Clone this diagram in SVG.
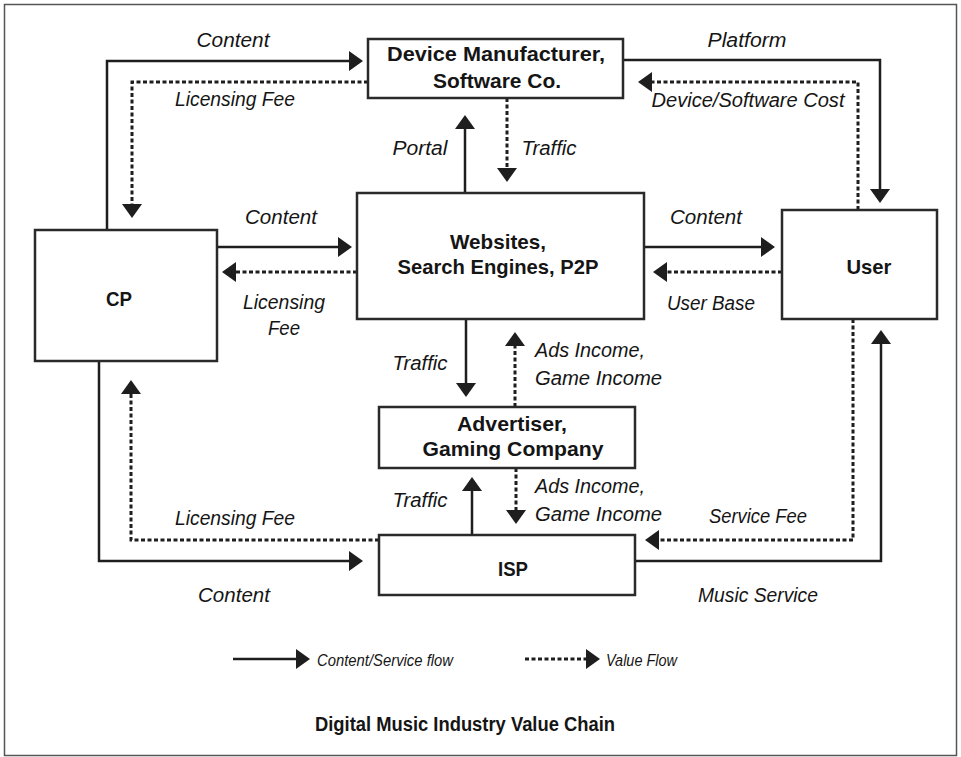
<svg xmlns="http://www.w3.org/2000/svg" width="961" height="757" viewBox="0 0 961 757">
<style>
.box{fill:#fff;stroke:#2a2a2a;stroke-width:2.5}
.ln{fill:none;stroke:#1e1e1e;stroke-width:2.5}
.solid{marker-end:url(#ah)}
.dot{stroke-width:3;stroke-dasharray:4 2.5;marker-end:url(#ah)}
.t{font-family:"Liberation Sans",Arial,sans-serif;font-weight:bold;font-size:21px;fill:#151515;text-anchor:middle}
.l{font-family:"Liberation Sans",Arial,sans-serif;font-style:italic;font-size:19.5px;fill:#151515;text-anchor:middle}
.ls{text-anchor:start}
.lg{font-size:16px}
</style>
<defs>
<marker id="ah" viewBox="0 0 14 20" refX="4" refY="10" markerWidth="14" markerHeight="20" markerUnits="userSpaceOnUse" orient="auto">
<path d="M0,0 L14,10 L0,20 z" fill="#1e1e1e"/>
</marker>
</defs>
<rect x="0" y="0" width="961" height="757" fill="#fff"/>
<rect x="4.5" y="4.5" width="952" height="751" fill="none" stroke="#555" stroke-width="1.5"/>

<g id="connectors">
<path class="ln solid" d="M107,230 V61 H353"/>
<path class="ln dot" d="M368,82 H132 V208"/>
<path class="ln solid" d="M623,60 H880 V193"/>
<path class="ln dot" d="M858,210 V82 H648"/>
<path class="ln solid" d="M465,193 V125"/>
<path class="ln dot" d="M507,98 V172"/>
<path class="ln solid" d="M217,247 H342"/>
<path class="ln dot" d="M357,272 H232"/>
<path class="ln solid" d="M644,247 H765"/>
<path class="ln dot" d="M782,272 H663"/>
<path class="ln solid" d="M466,319 V387"/>
<path class="ln dot" d="M515,407 V342"/>
<path class="ln solid" d="M472,535 V487"/>
<path class="ln dot" d="M516,468 V514"/>
<path class="ln solid" d="M99,361 V561 H353"/>
<path class="ln dot" d="M379,540 H131 V390"/>
<path class="ln dot" d="M853,319 V540 H655"/>
<path class="ln solid" d="M635,561 H881 V340"/>
</g>

<g id="connector-labels">
<text class="l" x="233" y="47" textLength="73" lengthAdjust="spacingAndGlyphs">Content</text>
<text class="l" x="235" y="106" textLength="120" lengthAdjust="spacingAndGlyphs">Licensing Fee</text>
<text class="l" x="747" y="47" textLength="79" lengthAdjust="spacingAndGlyphs">Platform</text>
<text class="l" x="748" y="107" textLength="193" lengthAdjust="spacingAndGlyphs">Device/Software Cost</text>
<text class="l" x="420" y="155" textLength="55" lengthAdjust="spacingAndGlyphs">Portal</text>
<text class="l" x="549" y="155" textLength="55" lengthAdjust="spacingAndGlyphs">Traffic</text>
<text class="l" x="281" y="224" textLength="72" lengthAdjust="spacingAndGlyphs">Content</text>
<text class="l" x="284" y="309" textLength="82" lengthAdjust="spacingAndGlyphs">Licensing</text>
<text class="l" x="284" y="335" textLength="32" lengthAdjust="spacingAndGlyphs">Fee</text>
<text class="l" x="706" y="224" textLength="72" lengthAdjust="spacingAndGlyphs">Content</text>
<text class="l" x="711" y="310" textLength="88" lengthAdjust="spacingAndGlyphs">User Base</text>
<text class="l" x="420" y="370" textLength="55" lengthAdjust="spacingAndGlyphs">Traffic</text>
<text class="l ls" x="535" y="357" textLength="110" lengthAdjust="spacingAndGlyphs">Ads Income,</text>
<text class="l ls" x="535" y="385" textLength="127" lengthAdjust="spacingAndGlyphs">Game Income</text>
<text class="l" x="420" y="507" textLength="55" lengthAdjust="spacingAndGlyphs">Traffic</text>
<text class="l ls" x="535" y="493" textLength="110" lengthAdjust="spacingAndGlyphs">Ads Income,</text>
<text class="l ls" x="535" y="521" textLength="127" lengthAdjust="spacingAndGlyphs">Game Income</text>
<text class="l" x="235" y="525" textLength="120" lengthAdjust="spacingAndGlyphs">Licensing Fee</text>
<text class="l" x="758" y="523" textLength="98" lengthAdjust="spacingAndGlyphs">Service Fee</text>
<text class="l" x="234" y="602" textLength="72" lengthAdjust="spacingAndGlyphs">Content</text>
<text class="l" x="758" y="602" textLength="120" lengthAdjust="spacingAndGlyphs">Music Service</text>
</g>

<g id="device">
<rect class="box" x="368" y="39" width="255" height="59"/>
<text class="t" x="496" y="61" textLength="218" lengthAdjust="spacingAndGlyphs">Device Manufacturer,</text>
<text class="t" x="497" y="88" textLength="128" lengthAdjust="spacingAndGlyphs">Software Co.</text>
</g>
<g id="websites">
<rect class="box" x="357" y="193" width="287" height="126"/>
<text class="t" x="498" y="249" textLength="96" lengthAdjust="spacingAndGlyphs">Websites,</text>
<text class="t" x="498" y="274" textLength="201" lengthAdjust="spacingAndGlyphs">Search Engines, P2P</text>
</g>
<g id="cp">
<rect class="box" x="35" y="230" width="182" height="131"/>
<text class="t" x="119" y="306" textLength="26" lengthAdjust="spacingAndGlyphs">CP</text>
</g>
<g id="user">
<rect class="box" x="782" y="210" width="155" height="109"/>
<text class="t" x="869" y="274" textLength="45" lengthAdjust="spacingAndGlyphs">User</text>
</g>
<g id="advertiser">
<rect class="box" x="379" y="407" width="256" height="61"/>
<text class="t" x="512" y="431" textLength="110" lengthAdjust="spacingAndGlyphs">Advertiser,</text>
<text class="t" x="513" y="456" textLength="181" lengthAdjust="spacingAndGlyphs">Gaming Company</text>
</g>
<g id="isp">
<rect class="box" x="379" y="535" width="256" height="60"/>
<text class="t" x="513" y="576" textLength="30" lengthAdjust="spacingAndGlyphs">ISP</text>
</g>

<g id="legend">
<path class="ln solid" d="M233,659 H300"/>
<text class="l ls lg" x="317" y="666" textLength="136" lengthAdjust="spacingAndGlyphs">Content/Service flow</text>
<path class="ln dot" d="M525,659 H590"/>
<text class="l ls lg" x="606" y="666" textLength="71" lengthAdjust="spacingAndGlyphs">Value Flow</text>
</g>
<text id="title" class="t" x="465" y="731" style="font-size:20px" textLength="300" lengthAdjust="spacingAndGlyphs">Digital Music Industry Value Chain</text>
</svg>
